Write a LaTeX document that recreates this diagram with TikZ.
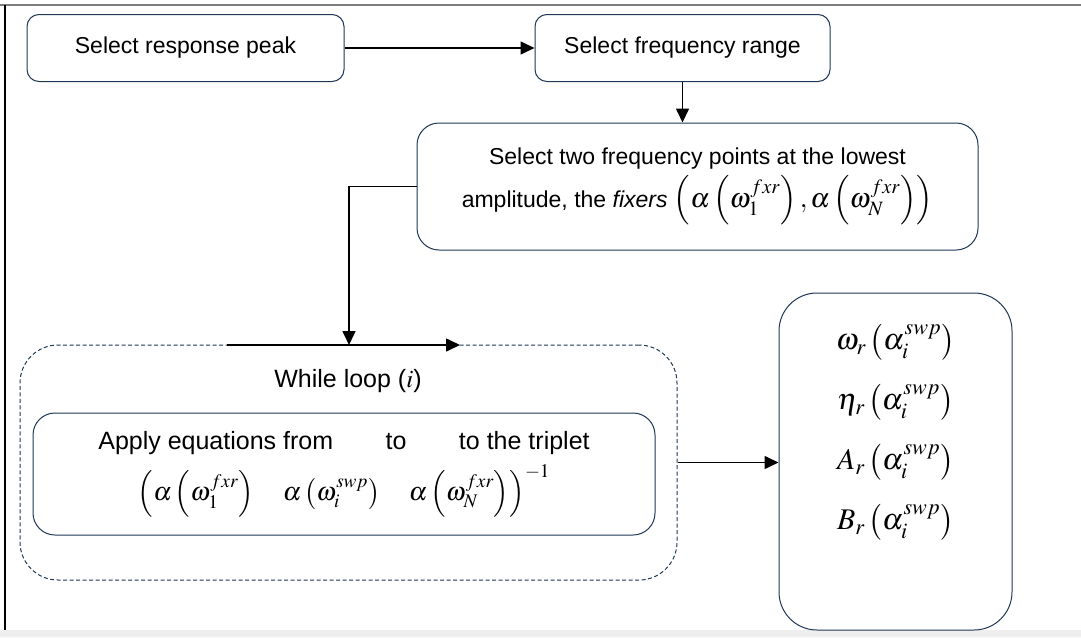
\documentclass[tikz,border=0pt]{standalone}
\usepackage{mathptmx}
\usepackage{fontspec}
\setmainfont{Liberation Sans}
\usepackage{tikz}
\usetikzlibrary{positioning,arrows.meta,calc}
\definecolor{ink}{RGB}{31,56,86}
\definecolor{framegray}{RGB}{125,125,125}
\definecolor{bandgray}{RGB}{238,238,238}
% formulas are set a little larger than the text
\newcommand{\bigmath}[2][27.5]{{\fontsize{#1}{30}\selectfont$#2$}}

\begin{document}
\begin{tikzpicture}[x=1pt,y=-1pt,
  every node/.style={font=\fontsize{23}{28}\selectfont},
  stage/.style={draw=ink,line width=1pt,rounded corners=12pt,align=center,fill=white,inner sep=0pt},
  loopbox/.style={draw=ink,line width=1pt,dash pattern=on 4pt off 2.5pt,rounded corners=38pt},
  arrow/.style={-{Triangle[length=14pt,width=13pt]},line width=1.6pt,draw=black}
]
\useasboundingbox (0,0) rectangle (1081,637);
% frame of the page
\fill[bandgray] (0,630) rectangle (1081,637);
\draw[framegray,line width=1.5pt] (0,5) -- (1081,5);
\draw[line width=1.2pt] (5,5) -- (5,630);

\node[stage,minimum width=317pt,minimum height=67pt] (a) at (185.5,48) {Select response peak};
\node[stage,minimum width=295pt,minimum height=67pt,right=190pt of a] (b) {Select frequency range};
\node[stage,minimum width=561pt,minimum height=127pt,rounded corners=22pt,
  font=\fontsize{23}{43}\selectfont] (c) at (697.5,186.5)
  {Select two frequency points at the lowest\\
   amplitude, the \textit{fixers} \bigmath{\left(\alpha\left(\omega_1^{fxr}\right),\alpha\left(\omega_N^{fxr}\right)\right)}};

% while loop
\node[loopbox,minimum width=657pt,minimum height=235pt] (loop) at (348.5,462.5) {};
\node[font=\fontsize{25}{30}\selectfont] (looplabel) at (348,381) {While loop ($i$)};
\node[stage,minimum width=622pt,minimum height=122pt,rounded corners=22pt,
  font=\fontsize{25}{51}\selectfont] (apply) at (344,474)
  {Apply equations from\hspace{2.1em}to\hspace{2.1em}to the triplet\\
   \bigmath[26]{\left(\alpha\left(\omega_1^{fxr}\right)\quad\alpha\left(\omega_i^{swp}\right)\quad\alpha\left(\omega_N^{fxr}\right)\right)^{-1}}};

% results
\node[stage,minimum width=233pt,minimum height=337pt,rounded corners=38pt] (res) at (895.5,461.5) {};
\node[below=28pt of res.north,align=center,font=\fontsize{30}{60}\selectfont] (vals)
  {$\omega_r\left(\alpha_i^{swp}\right)$\\
   $\eta_r\left(\alpha_i^{swp}\right)$\\
   $A_r\left(\alpha_i^{swp}\right)$\\
   $B_r\left(\alpha_i^{swp}\right)$};

\coordinate (drop) at (349,345);
\coordinate (topin) at (227,345);
\coordinate (topout) at (460,345);

\draw[arrow] (a) -- (b);
\draw[arrow] (b.south) -- (b.south |- c.north);
\draw[arrow] (c.west) -| (drop);
\draw[arrow] (topin) -- (topout);
\draw[arrow] (loop.east) -- (loop.east -| res.west);
\end{tikzpicture}
\end{document}
